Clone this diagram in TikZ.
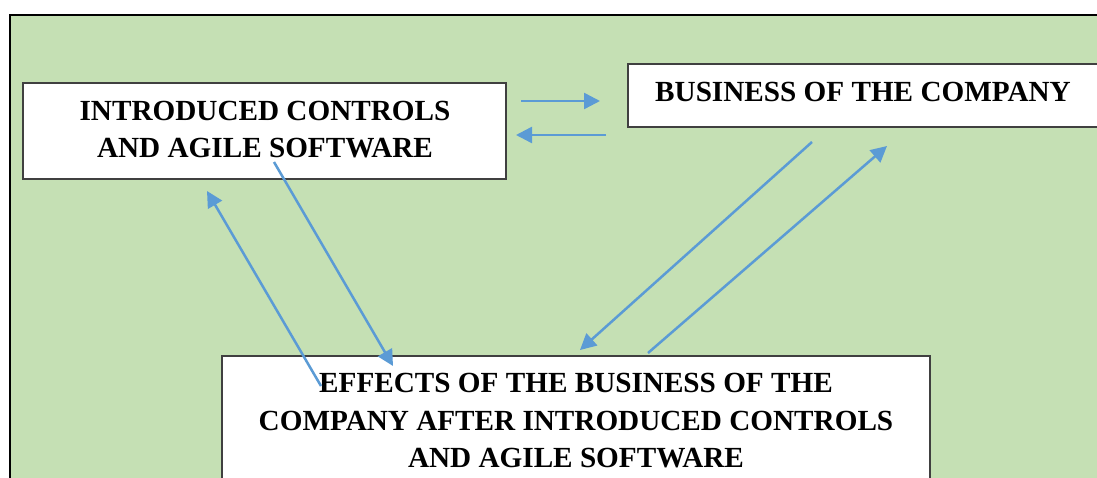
\documentclass[tikz,border=0pt]{standalone}
\usepackage{fontspec}
\setmainfont{Liberation Serif}
\usetikzlibrary{arrows.meta}
\definecolor{bggreen}{HTML}{C5E0B4}
\definecolor{arrblue}{HTML}{5B9BD5}
\definecolor{boxline}{HTML}{404040}
\begin{document}
\begin{tikzpicture}[x=1pt,y=-1pt,
  boxshape/.style={draw=boxline,line width=1.2pt,fill=white,rectangle,inner sep=0pt},
  boxtext/.style={font=\bfseries\fontsize{29.2}{37.5}\selectfont,align=center,inner sep=0pt},
  conn/.style={draw=arrblue,line width=2.5pt,-{Triangle[length=16pt,width=16pt]}}]
\useasboundingbox (0,0) rectangle (1097,478);
\fill[white] (0,0) rectangle (1097,478);
\draw[fill=bggreen,line width=2pt] (10,15) rectangle (1120,500);
% boxes
\node[boxshape,minimum width=483pt,minimum height=96pt] (b1) at (264.5,131) {};
\node[boxshape,minimum width=500pt,minimum height=63pt] (b2) at (878,95.5) {};
\node[boxshape,minimum width=708pt,minimum height=160pt] (b3) at (576,436) {};
\node[boxtext] (t1) at (265,129.5) {INTRODUCED CONTROLS\\AND AGILE SOFTWARE};
\node[boxtext] (t2) at (863,92) {BUSINESS OF THE COMPANY};
\node[boxtext] (t3) at (576,421) {EFFECTS OF THE BUSINESS OF THE\\COMPANY AFTER INTRODUCED CONTROLS\\AND AGILE SOFTWARE};
% arrow end points
\coordinate (a1s) at (521,101); \coordinate (a1e) at (600,101);
\coordinate (a2s) at (606,135); \coordinate (a2e) at (516,135);
\coordinate (a3s) at (812,142); \coordinate (a3e) at (580,350);
\coordinate (a4s) at (648,353); \coordinate (a4e) at (887,146);
\coordinate (a5s) at (321,386); \coordinate (a5e) at (207,191);
\coordinate (a6s) at (274,162); \coordinate (a6e) at (393,366);
\draw[conn] (a1s) -- (a1e);
\draw[conn] (a2s) -- (a2e);
\draw[conn] (a3s) -- (a3e);
\draw[conn] (a4s) -- (a4e);
\draw[conn] (a5s) -- (a5e);
\draw[conn] (a6s) -- (a6e);
\end{tikzpicture}
\end{document}
